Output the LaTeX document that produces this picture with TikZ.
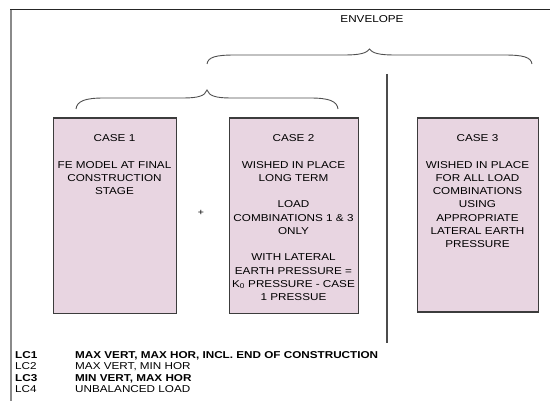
\documentclass[tikz,border=0pt]{standalone}
\usepackage{fontspec}
\setmainfont{Liberation Sans}[FakeStretch=1.17]
\definecolor{boxfill}{HTML}{E8D5E1}
\definecolor{boxline}{HTML}{3C3C3C}
\definecolor{bracecol}{HTML}{505050}
\definecolor{framegray}{HTML}{8A8A8A}
\begin{document}
\begin{tikzpicture}[x=1pt,y=-1pt,
  casebox/.style={draw=boxline, fill=boxfill, line width=1.2pt, anchor=north west, inner sep=0pt},
  casetext/.style={anchor=north, align=center, inner sep=0pt, font=\fontsize{10}{13.25}\selectfont},
  legtext/.style={anchor=base west, inner sep=0pt, font=\fontsize{10}{11.5}\selectfont},
  bracepath/.style={draw=bracecol, line width=0.9pt}]
\useasboundingbox (0,0) rectangle (550,401);
% frame
\draw[framegray, line width=1.6pt] (10.7,9.5) -- (10.7,401);
\draw[black!85, line width=1.8pt] (10,9.5) -- (550,9.5);
% title
\node[anchor=base, inner sep=0pt, font=\fontsize{10}{12}\selectfont] (env) at (372,22.6) {ENVELOPE};
% big brace
\draw[bracepath] (207,64) .. controls (208,57) and (216,55) .. (235,55) -- (345,55)
  .. controls (360,55) and (367,53) .. (369.5,49)
  .. controls (372,53) and (379,55) .. (394,55) -- (504,55)
  .. controls (523,55) and (531,57) .. (532,64);
% small brace
\draw[bracepath] (76,109) .. controls (77,101) and (85,98) .. (104,98) -- (183,98)
  .. controls (198,98) and (205,96) .. (207,90)
  .. controls (209,96) and (216,98) .. (231,98) -- (310,98)
  .. controls (329,98) and (337,101) .. (338,109);
% divider
\draw[black!70, line width=1.2pt] (387,74) -- (387,343);
% boxes
\node[casebox, minimum width=123pt, minimum height=195.5pt] (c1) at (53,117.5) {};
\node[casebox, minimum width=129pt, minimum height=195.5pt] (c2) at (229,117.5) {};
\node[casebox, minimum width=121pt, minimum height=194pt] (c3) at (417,117.5) {};
\node[casetext] (t1) at (114.5,134.4) {CASE 1\\[13.25pt]FE MODEL AT FINAL\\CONSTRUCTION\\STAGE};
\node[casetext] (t2) at (293.5,134.4) {CASE 2\\[13.25pt]WISHED IN PLACE\\LONG TERM\\[13.25pt]LOAD\\COMBINATIONS 1 \& 3\\ONLY\\[13.25pt]WITH LATERAL\\EARTH PRESSURE =\\K\textsubscript{0} PRESSURE - CASE\\1 PRESSUE};
\node[casetext] (t3) at (477.5,134.4) {CASE 3\\[13.25pt]WISHED IN PLACE\\FOR ALL LOAD\\COMBINATIONS\\USING\\APPROPRIATE\\LATERAL EARTH\\PRESSURE};
\node[inner sep=0pt, font=\fontsize{9}{9}\selectfont] (plus) at (201,212.5) {+};
% legend
\node[legtext, font=\fontsize{10}{11.5}\bfseries] (l1) at (15,358.5) {LC1};
\node[legtext] (l2) at (15,370) {LC2};
\node[legtext, font=\fontsize{10}{11.5}\bfseries] (l3) at (15,381.5) {LC3};
\node[legtext] (l4) at (15,393) {LC4};
\node[legtext, font=\fontsize{10}{11.5}\bfseries] (d1) at (75,358.5) {MAX VERT, MAX HOR, INCL. END OF CONSTRUCTION};
\node[legtext] (d2) at (75,370) {MAX VERT, MIN HOR};
\node[legtext, font=\fontsize{10}{11.5}\bfseries] (d3) at (75,381.5) {MIN VERT, MAX HOR};
\node[legtext] (d4) at (75,393) {UNBALANCED LOAD};
\end{tikzpicture}
\end{document}
